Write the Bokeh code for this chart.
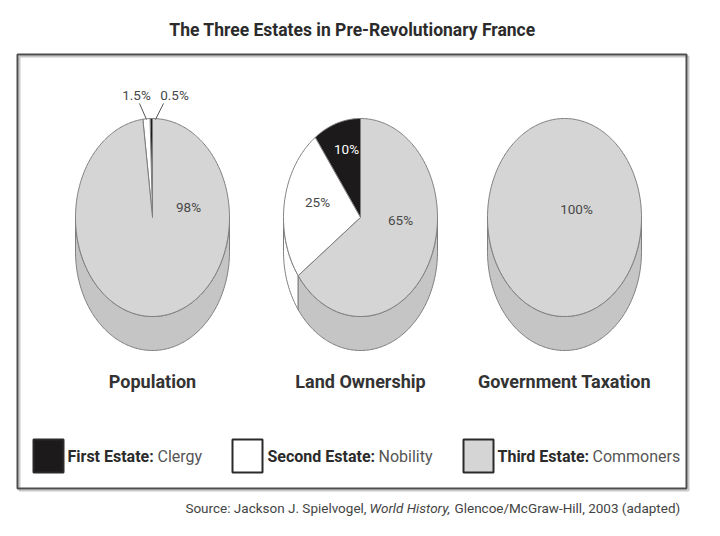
import numpy as np
from bokeh.plotting import figure
from bokeh.models import Range1d
from bokeh.core.properties import value
from bokeh.embed import file_html
from bokeh.resources import INLINE

# ---- data ----
pie_titles = ["Population", "Land Ownership", "Government Taxation"]
estates = ["First Estate", "Second Estate", "Third Estate"]
estate_groups = ["Clergy", "Nobility", "Commoners"]
population = [0.5, 1.5, 98]
land = [10, 25, 65]
taxation = [0, 0, 100]
pie_values = [population, land, taxation]
title_text = "The Three Estates in Pre-Revolutionary France"

# ---- styles ----
FONT = "Roboto, sans-serif"
top_colors = ["#1c1a1b", "#ffffff", "#d5d5d5"]
side_colors = ["#1c1a1b", "#fdfdfd", "#c5c5c5"]
OUTLINE = "#7d7d7d"

W, H = 720, 536
p = figure(width=W, height=H, x_range=Range1d(0, W), y_range=Range1d(H, 0),
           output_backend="svg", toolbar_location=None, min_border=0)
p.axis.visible = False
p.grid.visible = False
p.outline_line_color = None
p.background_fill_color = "white"

# frame
p.quad(left=[19], right=[688], top=[56], bottom=[490], fill_color=None,
       line_color="#c8c8c8", line_width=2)
p.quad(left=[17], right=[686], top=[54], bottom=[488], fill_color=None,
       line_color="#4d4d4d", line_width=2)

p.text(x=[352], y=[29], text=[title_text], text_font=value(FONT),
       text_font_style="bold", text_font_size="17.5px", text_color="#2b2b2b",
       text_align="center", text_baseline="middle")

centers = [152, 360, 564]
CY, RX, RY, DEPTH = 217, 77, 99, 34


def arc(cx, cy, t0, t1):
    t = np.radians(np.linspace(t0, t1, max(int(abs(t1 - t0)) + 2, 3)))
    return cx + RX * np.cos(t), cy - RY * np.sin(t)


for cx, vals in zip(centers, pie_values):
    total = float(sum(vals))
    bounds = 90 + np.concatenate([[0], np.cumsum(vals)]) / total * 360.0
    sx, sy, sc = [], [], []
    for i in range(3):
        a0, a1 = bounds[i], bounds[i + 1]
        if a1 - a0 <= 0:
            continue
        for lo, hi in [(180, 360), (540, 720)]:
            s0, s1 = max(a0, lo), min(a1, hi)
            if s1 > s0:
                xt, yt = arc(cx, CY, s0, s1)
                xs = np.concatenate([xt, xt[::-1]])
                ys = np.concatenate([yt, (yt + DEPTH)[::-1]])
                sx.append(list(xs)); sy.append(list(ys)); sc.append(side_colors[i])
    p.patches(xs=sx, ys=sy, fill_color=sc, line_color=OUTLINE, line_width=1)
    tx, ty, tc = [], [], []
    for i in range(3):
        a0, a1 = bounds[i], bounds[i + 1]
        if a1 - a0 <= 0:
            continue
        xt, yt = arc(cx, CY, a0, a1)
        if a1 - a0 < 359.9:
            xt = np.concatenate([[cx], xt]); yt = np.concatenate([[CY], yt])
        tx.append(list(xt)); ty.append(list(yt)); tc.append(top_colors[i])
    p.patches(xs=tx, ys=ty, fill_color=tc, line_color=OUTLINE, line_width=1)

# slice labels
lab_x = [136, 174, 188, 346, 317, 400, 576]
lab_y = [94, 94, 206, 148, 201, 219, 208]
lab_t = [f"{population[1]}%", f"{population[0]}%", f"{population[2]:g}%",
         f"{land[0]}%", f"{land[1]}%", f"{land[2]}%", f"{taxation[2]}%"]
lab_c = ["#484848", "#484848", "#484848", "#ffffff", "#484848", "#484848", "#484848"]
p.text(x=lab_x, y=lab_y, text=lab_t, text_color=lab_c, text_font=value(FONT),
       text_font_size="13.5px", text_align="center", text_baseline="middle")
p.segment(x0=[139, 163], y0=[103, 103], x1=[146, 155], y1=[119, 119],
          line_color="#555555", line_width=1)

# pie titles
p.text(x=centers, y=[381, 381, 381], text=pie_titles, text_font=value(FONT),
       text_font_style="bold", text_font_size="18px", text_color="#333333",
       text_align="center", text_baseline="middle")

# legend
box_l = [33, 232, 463]
p.quad(left=box_l, right=[b + 30 for b in box_l], top=[439] * 3, bottom=[472] * 3,
       fill_color=top_colors[:2] + ["#d5d5d5"], line_color="#2a2a2a", line_width=2)
p.text(x=[67, 267, 497], y=[456] * 3, text=[e + ":" for e in estates],
       text_font=value(FONT), text_font_style="bold", text_font_size="16px",
       text_color="#2b2b2b", text_baseline="middle")
p.text(x=[157, 378, 592], y=[456] * 3, text=estate_groups,
       text_font=value(FONT), text_font_size="16px",
       text_color="#555555", text_baseline="middle")

# source
p.text(x=[366], y=[507], text=["Source: Jackson J. Spielvogel,"], text_font=value(FONT),
       text_font_size="13.5px", text_color="#444444", text_align="right",
       text_baseline="middle")
p.text(x=[369], y=[507], text=["World History,"], text_font=value(FONT),
       text_font_style="italic", text_font_size="13.5px", text_color="#444444",
       text_baseline="middle")
p.text(x=[454], y=[507], text=["Glencoe/McGraw-Hill, 2003 (adapted)"],
       text_font=value(FONT), text_font_size="13.5px", text_color="#444444",
       text_baseline="middle")

open("out.html", "w").write(file_html(p, INLINE))
